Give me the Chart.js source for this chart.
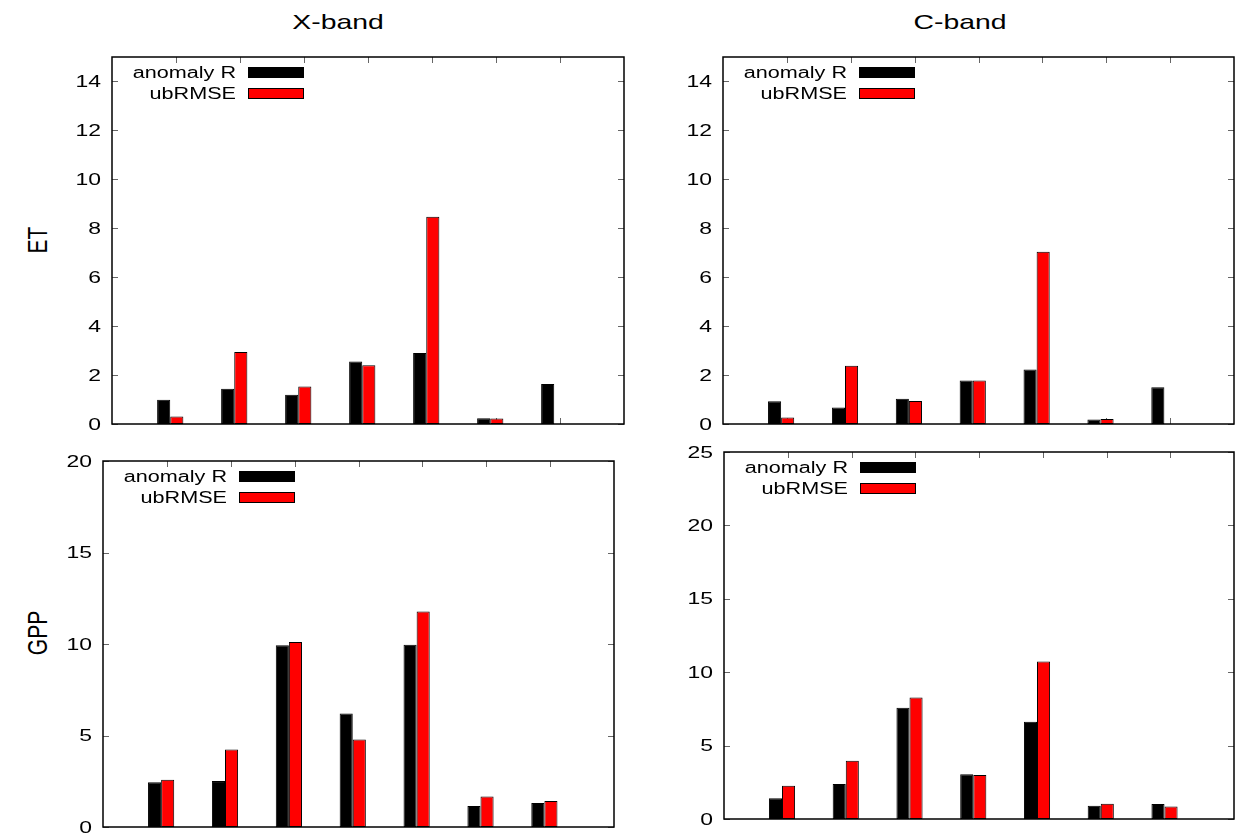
<!DOCTYPE html>
<html>
<head>
<meta charset="utf-8">
<script src="https://cdn.jsdelivr.net/npm/chart.js@4.4.1/dist/chart.umd.min.js"></script>
<style>
  html, body { margin: 0; padding: 0; background: #fff; }
  body { width: 1235px; height: 834px; position: relative; overflow: hidden; }
  canvas { position: absolute; }
  .lbl {
    position: absolute;
    font-family: "Liberation Sans", Arial, Helvetica, sans-serif;
    font-size: 21px;
    color: #000;
    white-space: nowrap;
  }
</style>
</head>
<body>
<div class="lbl" style="left:338px;top:22px;transform:translate(-50%,-50%) scaleX(1.35);">X-band</div>
<div class="lbl" style="left:960px;top:22px;transform:translate(-50%,-50%) scaleX(1.35);">C-band</div>
<div class="lbl" style="left:38px;top:240px;transform:translate(-50%,-50%) scaleX(1.35) rotate(-90deg);">ET</div>
<div class="lbl" style="left:38px;top:633px;transform:translate(-50%,-50%) scaleX(1.35) rotate(-90deg);">GPP</div>

<canvas id="etX"></canvas>
<canvas id="etC"></canvas>
<canvas id="gppX"></canvas>
<canvas id="gppC"></canvas>

<script>
// --- data ---
const groups = [1, 2, 3, 4, 5, 6, 7];
const seriesLabels = ['anomaly R', 'ubRMSE'];

const etXAnomalyR = [0.99, 1.44, 1.20, 2.55, 2.90, 0.23, 1.63];
const etXUbRMSE   = [0.31, 2.94, 1.53, 2.40, 8.47, 0.22, 0];
const etCAnomalyR = [0.93, 0.67, 1.03, 1.78, 2.23, 0.18, 1.50];
const etCUbRMSE   = [0.27, 2.38, 0.94, 1.78, 7.04, 0.20, 0];

const gppXAnomalyR = [2.45, 2.51, 9.93, 6.20, 9.96, 1.15, 1.31];
const gppXUbRMSE   = [2.58, 4.24, 10.11, 4.78, 11.78, 1.67, 1.42];
const gppCAnomalyR = [1.41, 2.38, 7.58, 3.04, 6.62, 0.91, 1.02];
const gppCUbRMSE   = [2.27, 3.97, 8.28, 2.99, 10.73, 1.04, 0.86];

const etTicks   = [0, 2, 4, 6, 8, 10, 12, 14];
const gppXTicks = [0, 5, 10, 15, 20];
const gppCTicks = [0, 5, 10, 15, 20, 25];

// --- layout / style ---
const FONT = '"Liberation Sans", Arial, Helvetica, sans-serif';
const STRETCH = 1.35;       // source figure is stretched horizontally
const Y_AXIS_W = 70;
const PAD = { top: 15, right: 10, bottom: 15 };
const BAR_SHIFT = -0.09;    // bar pairs sit slightly left of the tics
const COLORS = ['#000000', '#ff0000'];

// plot areas (left, top, right, bottom) in page pixels
const panels = [
  { id: 'etX',  area: [112, 57, 624, 424],   max: 15, ticks: etTicks,   a: etXAnomalyR,  u: etXUbRMSE },
  { id: 'etC',  area: [723, 57, 1234, 424],  max: 15, ticks: etTicks,   a: etCAnomalyR,  u: etCUbRMSE },
  { id: 'gppX', area: [103, 461, 614, 827],  max: 20, ticks: gppXTicks, a: gppXAnomalyR, u: gppXUbRMSE },
  { id: 'gppC', area: [724, 452, 1234, 819], max: 25, ticks: gppCTicks, a: gppCAnomalyR, u: gppCUbRMSE }
];

// gnuplot-like frame: inward tics on all sides, box, stretched labels, legend
const framePlugin = {
  id: 'gnuplotFrame',
  beforeDatasetsDraw(chart) {
    const { ctx, chartArea: ca, scales } = chart;
    const len = 6;
    ctx.save();
    ctx.strokeStyle = '#666';
    ctx.lineWidth = 1;
    ctx.beginPath();
    scales.x.ticks.forEach(t => {
      const px = Math.round(scales.x.getPixelForValue(t.value)) + 0.5;
      ctx.moveTo(px, ca.bottom); ctx.lineTo(px, ca.bottom - len);
      ctx.moveTo(px, ca.top); ctx.lineTo(px, ca.top + len);
    });
    scales.y.ticks.forEach(t => {
      const py = Math.round(scales.y.getPixelForValue(t.value)) + 0.5;
      ctx.moveTo(ca.left, py); ctx.lineTo(ca.left + len, py);
      ctx.moveTo(ca.right, py); ctx.lineTo(ca.right - len, py);
    });
    ctx.stroke();
    ctx.restore();
  },
  afterDatasetsDraw(chart) {
    const { ctx, chartArea: ca, scales } = chart;
    ctx.save();
    ctx.strokeStyle = '#000';
    ctx.lineWidth = 1.5;
    ctx.strokeRect(ca.left, ca.top, ca.right - ca.left, ca.bottom - ca.top);

    // y tick labels
    ctx.fillStyle = '#000';
    ctx.font = '17px ' + FONT;
    ctx.textAlign = 'right';
    ctx.textBaseline = 'middle';
    scales.y.ticks.forEach(t => {
      const py = scales.y.getPixelForValue(t.value);
      ctx.save();
      ctx.translate(ca.left - 11, py + 1);
      ctx.scale(STRETCH, 1);
      ctx.fillText(String(t.value), 0, 0);
      ctx.restore();
    });

    // legend
    ctx.font = '16px ' + FONT;
    chart.data.datasets.forEach((ds, i) => {
      const y = ca.top + 15.5 + i * 21;
      ctx.save();
      ctx.translate(ca.left + 124, y + 1);
      ctx.scale(STRETCH, 1);
      ctx.fillText(ds.label, 0, 0);
      ctx.restore();
      ctx.fillStyle = ds.backgroundColor;
      ctx.fillRect(ca.left + 136, y - 5.5, 56, 11);
      ctx.strokeStyle = '#000';
      ctx.lineWidth = 1;
      ctx.strokeRect(ca.left + 136.5, y - 5, 55, 10);
      ctx.fillStyle = '#000';
    });
    ctx.restore();
  }
};

function makePanel(p) {
  const [L, T, R, B] = p.area;
  const canvas = document.getElementById(p.id);
  const w = (R - L) + Y_AXIS_W + PAD.right;
  const h = (B - T) + PAD.top + PAD.bottom;
  canvas.width = w;
  canvas.height = h;
  canvas.style.left = (L - Y_AXIS_W) + 'px';
  canvas.style.top = (T - PAD.top) + 'px';
  canvas.style.width = w + 'px';
  canvas.style.height = h + 'px';

  const series = [p.a, p.u];
  new Chart(canvas.getContext('2d'), {
    type: 'bar',
    data: {
      datasets: series.map((vals, i) => ({
        label: seriesLabels[i],
        data: groups.map((g, k) => ({ x: g + BAR_SHIFT, y: vals[k] })),
        backgroundColor: COLORS[i],
        borderColor: '#000',
        borderWidth: 1,
        borderSkipped: false,
        categoryPercentage: 0.41,
        barPercentage: 1
      }))
    },
    options: {
      responsive: false,
      animation: false,
      events: [],
      layout: { padding: { top: PAD.top, right: PAD.right, bottom: PAD.bottom, left: 0 } },
      plugins: { legend: { display: false }, tooltip: { enabled: false } },
      scales: {
        x: {
          type: 'linear', min: 0, max: 8,
          offset: false,
          ticks: { display: false },
          grid: { display: false, offset: false },
          border: { display: false },
          afterBuildTicks: s => { s.ticks = groups.map(v => ({ value: v })); },
          afterFit: s => { s.height = 0; }
        },
        y: {
          min: 0, max: p.max,
          ticks: { display: false },
          grid: { display: false },
          border: { display: false },
          afterBuildTicks: s => { s.ticks = p.ticks.map(v => ({ value: v })); },
          afterFit: s => { s.width = Y_AXIS_W; }
        }
      }
    },
    plugins: [framePlugin]
  });
}

panels.forEach(makePanel);
</script>
</body>
</html>
